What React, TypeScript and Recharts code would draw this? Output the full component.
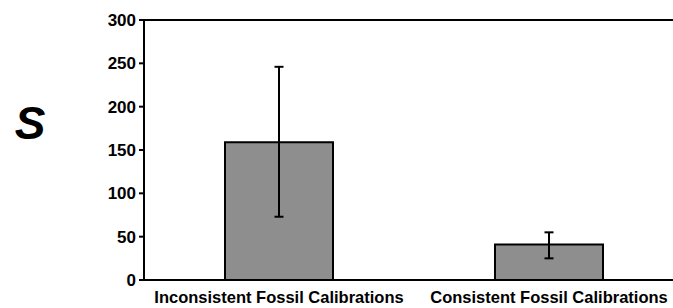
import { BarChart, Bar, XAxis, YAxis, ErrorBar, ReferenceLine } from 'recharts'

const categories = ['Inconsistent Fossil Calibrations', 'Consistent Fossil Calibrations']
const meanS = [159, 41]
const errLow = [86, 16]
const errHigh = [87, 14]
const yTicks = [0, 50, 100, 150, 200, 250, 300]

const data = categories.map((name, i) => ({
  name,
  s: meanS[i],
  err: [errLow[i], errHigh[i]],
}))

const font = '"Liberation Sans", Arial, Helvetica, sans-serif'

export default function App() {
  return (
    <div style={{ position: 'absolute', left: 0, top: 0, width: 673, height: 308, overflow: 'hidden', background: '#fff' }}>
      <BarChart width={700} height={308} data={data} margin={{ top: 20, right: 16, bottom: 0, left: 0 }}>
        <ReferenceLine y={300} stroke="#000" strokeWidth={2} />
        <XAxis
          dataKey="name"
          height={28}
          axisLine={{ stroke: '#000', strokeWidth: 2 }}
          tickLine={false}
          interval={0}
          tick={{ fill: '#000', fontSize: 16.5, fontWeight: 700, fontFamily: font }}
          tickMargin={5}
        />
        <YAxis
          width={144}
          domain={[0, 300]}
          ticks={yTicks}
          axisLine={{ stroke: '#000', strokeWidth: 2 }}
          tickLine={{ stroke: '#000', strokeWidth: 2 }}
          tickSize={5}
          tickMargin={3}
          tick={{ fill: '#000', fontSize: 17, fontWeight: 700, fontFamily: font }}
          label={{
            content: () => (
              <text x={30} y={139} textAnchor="middle" fontSize={46} fontWeight={700} fontStyle="italic" fontFamily={font} fill="#000">
                S
              </text>
            ),
          }}
        />
        <Bar dataKey="s" fill="#8e8e8e" stroke="#000" strokeWidth={2} barSize={108} isAnimationActive={false}>
          <ErrorBar dataKey="err" width={4.5} stroke="#000" strokeWidth={2} />
        </Bar>
      </BarChart>
    </div>
  )
}
